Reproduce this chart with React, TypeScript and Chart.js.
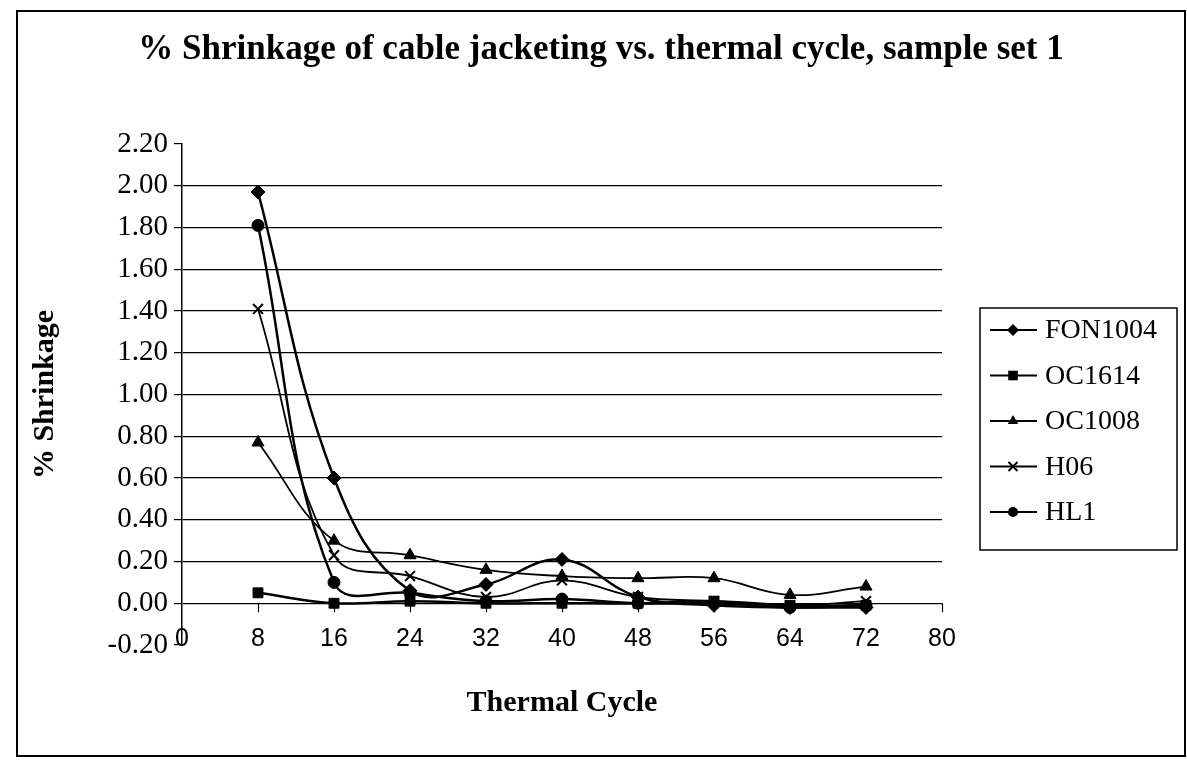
import React, { useEffect, useRef } from 'react';
import { Chart, registerables } from 'chart.js';

Chart.register(...registerables);

// ---- data ----
const cycles = [8, 16, 24, 32, 40, 48, 56, 64, 72];
const FON1004 = [1.97, 0.6, 0.06, 0.09, 0.21, 0.03, -0.01, -0.02, -0.02];
const OC1614 = [0.05, 0.0, 0.01, 0.0, 0.0, 0.0, 0.01, -0.01, -0.01];
const OC1008 = [0.77, 0.3, 0.23, 0.16, 0.13, 0.12, 0.12, 0.04, 0.08];
const H06 = [1.41, 0.23, 0.13, 0.03, 0.11, 0.03, 0.01, -0.01, 0.01];
const HL1 = [1.81, 0.1, 0.05, 0.01, 0.02, 0.0, 0.0, -0.02, -0.01];

const seriesNames = ['FON1004', 'OC1614', 'OC1008', 'H06', 'HL1'];
const seriesValues = [FON1004, OC1614, OC1008, H06, HL1];
const seriesMarkers = ['rectRot', 'rect', 'triangle', 'crossRot', 'circle'];
const seriesMarkerSize = [7, 7, 7, 7, 6];
const seriesLineWidth = [2.5, 2.5, 1.8, 1.8, 2.5];

const xMin = 0;
const xMax = 80;
const xStep = 8;
const yMin = -0.2;
const yMax = 2.2;
const yStep = 0.2;

const titleText = '% Shrinkage of cable jacketing vs. thermal cycle, sample set 1';
const xTitle = 'Thermal Cycle';
const yTitle = '% Shrinkage';

const SERIF = '"Liberation Serif", "Times New Roman", Times, serif';
const SANS = '"Liberation Sans", Arial, Helvetica, sans-serif';

function drawMarker(ctx: CanvasRenderingContext2D, style: string, x: number, y: number, r: number) {
  ctx.save();
  ctx.fillStyle = '#000';
  ctx.strokeStyle = '#000';
  ctx.lineWidth = 2;
  ctx.beginPath();
  if (style === 'rectRot') {
    ctx.moveTo(x, y - r);
    ctx.lineTo(x + r, y);
    ctx.lineTo(x, y + r);
    ctx.lineTo(x - r, y);
    ctx.closePath();
    ctx.fill();
  } else if (style === 'rect') {
    ctx.rect(x - r * 0.8, y - r * 0.8, r * 1.6, r * 1.6);
    ctx.fill();
  } else if (style === 'triangle') {
    ctx.moveTo(x, y - r);
    ctx.lineTo(x + r * 0.87, y + r * 0.5);
    ctx.lineTo(x - r * 0.87, y + r * 0.5);
    ctx.closePath();
    ctx.fill();
  } else if (style === 'crossRot') {
    ctx.moveTo(x - r * 0.75, y - r * 0.75);
    ctx.lineTo(x + r * 0.75, y + r * 0.75);
    ctx.moveTo(x + r * 0.75, y - r * 0.75);
    ctx.lineTo(x - r * 0.75, y + r * 0.75);
    ctx.stroke();
  } else {
    ctx.arc(x, y, r * 0.85, 0, Math.PI * 2);
    ctx.fill();
  }
  ctx.restore();
}

const axisTicksPlugin = {
  id: 'axisAtZero',
  afterDraw(chart: any) {
    const { ctx, scales } = chart;
    const xs = scales.x;
    const ys = scales.y;
    const y0 = ys.getPixelForValue(0);
    ctx.save();
    ctx.strokeStyle = '#000';
    ctx.lineWidth = 1.2;
    ctx.beginPath();
    for (const t of xs.ticks) {
      if (t.value === 0) continue;
      const px = Math.round(xs.getPixelForValue(t.value)) + 0.5;
      ctx.moveTo(px, y0);
      ctx.lineTo(px, y0 + 9);
    }
    ctx.stroke();
    ctx.restore();
  },
};

const boxLegendPlugin = {
  id: 'boxLegend',
  afterDraw(chart: any) {
    const { ctx, chartArea } = chart;
    const left = chartArea.right + 38;
    const right = left + 197;
    const top = chartArea.top + 164;
    const bottom = chartArea.top + 406;
    ctx.save();
    ctx.strokeStyle = '#000';
    ctx.lineWidth = 1.5;
    ctx.strokeRect(left, top, right - left, bottom - top);
    ctx.font = '28px ' + SERIF;
    ctx.textBaseline = 'middle';
    ctx.textAlign = 'left';
    ctx.fillStyle = '#000';
    chart.data.datasets.forEach((ds: any, i: number) => {
      const y = top + 22 + i * 45.5;
      ctx.beginPath();
      ctx.lineWidth = 2;
      ctx.moveTo(left + 10, y);
      ctx.lineTo(left + 57, y);
      ctx.stroke();
      drawMarker(ctx, ds.pointStyle, left + 33, y, 6);
      ctx.fillText(ds.label, left + 65, y + 1);
    });
    ctx.restore();
  },
};

export default function App() {
  const canvasRef = useRef<HTMLCanvasElement | null>(null);

  useEffect(() => {
    if (!canvasRef.current) return;
    const datasets = seriesNames.map((name, i) => ({
      label: name,
      data: cycles.map((c, j) => ({ x: c, y: seriesValues[i][j] })),
      borderColor: '#000',
      backgroundColor: '#000',
      borderWidth: seriesLineWidth[i],
      pointStyle: seriesMarkers[i],
      pointRadius: seriesMarkerSize[i],
      pointBorderWidth: seriesMarkers[i] === 'crossRot' ? 2 : 1,
      pointBackgroundColor: '#000',
      pointBorderColor: '#000',
      tension: 0.4,
      fill: false,
    }));

    const chart = new Chart(canvasRef.current, {
      type: 'line',
      data: { datasets },
      plugins: [axisTicksPlugin, boxLegendPlugin],
      options: {
        animation: false,
        responsive: false,
        layout: { padding: 0 },
        plugins: {
          legend: { display: false },
          tooltip: { enabled: false },
          title: {
            display: true,
            text: titleText,
            color: '#000',
            font: { family: SERIF, size: 35, weight: 'bold' },
            padding: { top: 17, bottom: 73 },
          },
        },
        scales: {
          x: {
            type: 'linear',
            position: 'bottom',
            min: xMin,
            max: xMax,
            grid: { display: false, drawTicks: false },
            border: { display: false },
            ticks: {
              stepSize: xStep,
              color: '#000',
              mirror: true,
              padding: -9,
              maxRotation: 0,
              autoSkip: false,
              font: { family: SANS, size: 25 },
            },
            title: {
              display: true,
              text: xTitle,
              color: '#000',
              font: { family: SERIF, size: 30, weight: 'bold' },
              padding: { top: 0, bottom: 34 },
            },
            afterFit: (s: any) => {
              s.height = 110;
            },
          },
          y: {
            type: 'linear',
            position: 'left',
            min: yMin,
            max: yMax,
            grid: {
              color: (c: any) =>
                c.tick && (Math.abs(c.tick.value - yMax) < 1e-6 || Math.abs(c.tick.value - yMin) < 1e-6)
                  ? 'rgba(0,0,0,0)'
                  : '#000',
              tickColor: '#000',
              lineWidth: 1.2,
              tickLength: 8,
            },
            border: { display: true, color: '#000', width: 1.5 },
            ticks: {
              stepSize: yStep,
              color: '#000',
              padding: 6,
              font: { family: SERIF, size: 29 },
              callback: (v: any) => Number(v).toFixed(2),
            },
            title: {
              display: true,
              text: yTitle,
              color: '#000',
              font: { family: SERIF, size: 30, weight: 'bold' },
              padding: { top: 9, bottom: 0 },
            },
            afterFit: (s: any) => {
              s.width = 164;
            },
          },
          yRight: {
            type: 'linear',
            position: 'right',
            display: true,
            grid: { display: false, drawTicks: false },
            border: { display: false },
            ticks: { display: false },
            afterFit: (s: any) => {
              s.width = 242;
            },
          },
        },
      } as any,
    });
    return () => chart.destroy();
  }, []);

  return (
    <div
      style={{
        position: 'absolute',
        left: 16,
        top: 10,
        width: 1166,
        height: 743,
        border: '2px solid #000',
        background: '#fff',
      }}
    >
      <canvas ref={canvasRef} width={1166} height={743} style={{ display: 'block' }} />
    </div>
  );
}
